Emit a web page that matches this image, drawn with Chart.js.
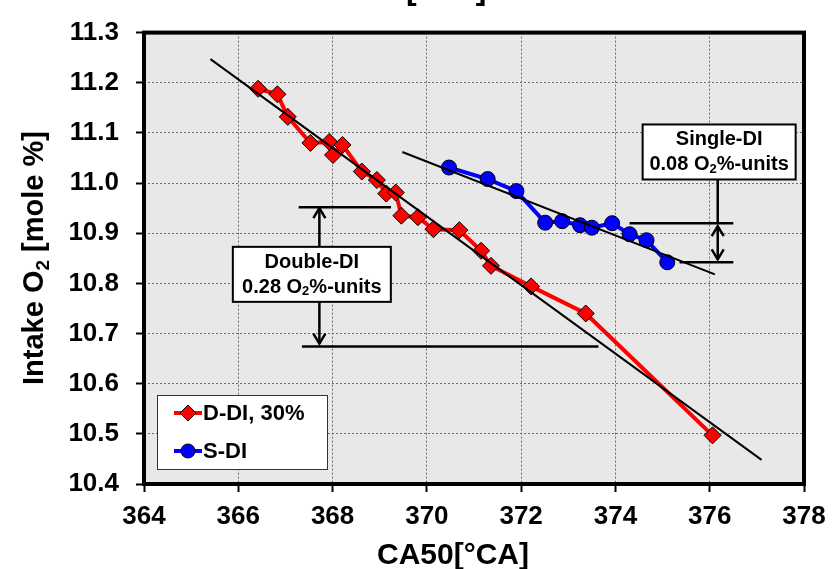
<!DOCTYPE html>
<html>
<head>
<meta charset="utf-8">
<script src="https://cdn.jsdelivr.net/npm/chart.js@4.4.1/dist/chart.umd.min.js"></script>
<style>
  html, body { margin: 0; padding: 0; background: #fff; }
  #o2Chart { display: block; }
</style>
</head>
<body>
<canvas id="o2Chart" width="837" height="569"></canvas>
<script>
// Intake O2 vs CA50 — double vs single direct injection sweep

const xTicks = [364, 366, 368, 370, 372, 374, 376, 378];
const yTicks = [10.4, 10.5, 10.6, 10.7, 10.8, 10.9, 11.0, 11.1, 11.2, 11.3];

const ddiCA50 = [366.42, 366.83, 367.05, 367.53, 367.93, 368.01, 368.21, 368.62, 368.94, 369.14,
                 369.34, 369.46, 369.81, 370.14, 370.69, 371.15, 371.36, 372.21, 373.37, 376.06];
const ddiO2   = [11.188, 11.177, 11.132, 11.080, 11.082, 11.056, 11.076, 11.023, 11.006, 10.979,
                 10.981, 10.935, 10.932, 10.908, 10.906, 10.865, 10.835, 10.794, 10.740, 10.497];

const sdiCA50 = [370.47, 371.29, 371.90, 372.51, 372.87, 373.25, 373.50, 373.93, 374.30, 374.66, 375.10];
const sdiO2   = [11.031, 11.008, 10.984, 10.921, 10.924, 10.916, 10.911, 10.920, 10.898, 10.886, 10.842];

// linear trend lines (end points)
const ddiFitCA50 = [365.41, 377.10];
const ddiFitO2   = [11.247, 10.448];
const sdiFitCA50 = [369.48, 376.11];
const sdiFitO2   = [11.062, 10.818];

// spread brackets: O2 levels, start / end CA50 of each level, arrow CA50, note anchor
const ddiBand     = [10.952, 10.674];
const ddiBandFrom = [367.28, 367.35];
const ddiBandTo   = [369.24, 373.64];
const ddiArrowAt  = 367.72;
const ddiNoteAt   = [367.56, 10.818];

const sdiBand     = [10.920, 10.842];
const sdiBandFrom = [374.30, 375.36];
const sdiBandTo   = [376.50, 376.50];
const sdiArrowAt  = 376.17;
const sdiNoteAt   = [376.20, 11.062];

const FONT = '"Liberation Sans", Arial, Helvetica, sans-serif';
const bold = size => `bold ${size}px ${FONT}`;

const toPoints = (xs, ys) => xs.map((x, i) => ({ x, y: ys[i] }));

// draw a line of text with optional subscript runs
function richText(ctx, parts, x, y, size, align) {
  const subSize = Math.round(size * 0.65);
  const widths = parts.map(p => {
    ctx.font = bold(p.sub ? subSize : size);
    return ctx.measureText(p.t).width;
  });
  const total = widths.reduce((a, b) => a + b, 0);
  let cx = align === "center" ? x - total / 2 : x;
  ctx.textAlign = "left";
  parts.forEach((p, i) => {
    ctx.font = bold(p.sub ? subSize : size);
    ctx.fillText(p.t, cx, p.sub ? y + size * 0.22 : y);
    cx += widths[i];
  });
}

function arrowHead(ctx, x, y, dir) {
  // open chevron, dir = -1 points up, +1 points down
  ctx.beginPath();
  ctx.moveTo(x - 6, y - dir * 10);
  ctx.lineTo(x, y);
  ctx.lineTo(x + 6, y - dir * 10);
  ctx.stroke();
}

function hLine(ctx, x0, x1, y) {
  ctx.beginPath();
  ctx.moveTo(x0, y);
  ctx.lineTo(x1, y);
  ctx.stroke();
}

function vLine(ctx, x, y0, y1) {
  ctx.beginPath();
  ctx.moveTo(x, y0);
  ctx.lineTo(x, y1);
  ctx.stroke();
}

function noteBox(ctx, cx, cy, w, h, title, amount) {
  ctx.fillStyle = "#fff";
  ctx.fillRect(cx - w / 2, cy - h / 2, w, h);
  ctx.strokeStyle = "#000";
  ctx.lineWidth = 2;
  ctx.strokeRect(cx - w / 2, cy - h / 2, w, h);
  ctx.fillStyle = "#000";
  ctx.textBaseline = "middle";
  richText(ctx, [{ t: title }], cx, cy - 12, 20, "center");
  richText(ctx, [{ t: amount + " O" }, { t: "2", sub: true }, { t: "%-units" }], cx, cy + 13, 20, "center");
}

const plotBackground = {
  id: "plotBackground",
  beforeDraw(chart) {
    const { ctx, chartArea: { left, top, right, bottom } } = chart;
    ctx.save();
    ctx.fillStyle = "#e8e8e8";
    ctx.fillRect(left, top, right - left, bottom - top);
    ctx.restore();
  }
};

const spreadNotes = {
  id: "spreadNotes",
  afterDatasetsDraw(chart) {
    const { ctx, scales: { x, y } } = chart;
    ctx.save();
    ctx.strokeStyle = "#000";
    ctx.lineWidth = 2.5;

    // Double-DI spread
    const dTop = y.getPixelForValue(ddiBand[0]);
    const dBot = y.getPixelForValue(ddiBand[1]);
    hLine(ctx, x.getPixelForValue(ddiBandFrom[0]), x.getPixelForValue(ddiBandTo[0]), dTop);
    hLine(ctx, x.getPixelForValue(ddiBandFrom[1]), x.getPixelForValue(ddiBandTo[1]), dBot);
    const dax = x.getPixelForValue(ddiArrowAt);
    const dnx = x.getPixelForValue(ddiNoteAt[0]);
    const dny = y.getPixelForValue(ddiNoteAt[1]);
    vLine(ctx, dax, dny - 27, dTop + 1);
    arrowHead(ctx, dax, dTop + 1, -1);
    vLine(ctx, dax, dny + 27, dBot - 3);
    arrowHead(ctx, dax, dBot - 3, 1);
    const dAmt = (ddiBand[0] - ddiBand[1]).toFixed(2);
    noteBox(ctx, dnx, dny, 158, 55, "Double-DI", dAmt);

    // Single-DI spread
    ctx.strokeStyle = "#000";
    ctx.lineWidth = 2.5;
    const sTop = y.getPixelForValue(sdiBand[0]);
    const sBot = y.getPixelForValue(sdiBand[1]);
    hLine(ctx, x.getPixelForValue(sdiBandFrom[0]), x.getPixelForValue(sdiBandTo[0]), sTop);
    hLine(ctx, x.getPixelForValue(sdiBandFrom[1]), x.getPixelForValue(sdiBandTo[1]), sBot);
    const sax = x.getPixelForValue(sdiArrowAt);
    const snx = x.getPixelForValue(sdiNoteAt[0]);
    const sny = y.getPixelForValue(sdiNoteAt[1]);
    vLine(ctx, sax, sny + 27, sTop);
    vLine(ctx, sax, sTop + 3, sBot - 3);
    arrowHead(ctx, sax, sTop + 3, -1);
    arrowHead(ctx, sax, sBot - 3, 1);
    const sAmt = (sdiBand[0] - sdiBand[1]).toFixed(2);
    noteBox(ctx, snx, sny, 153, 55, "Single-DI", sAmt);

    ctx.restore();
  }
};

const frameAndLabels = {
  id: "frameAndLabels",
  afterDraw(chart) {
    const { ctx, chartArea: { left, top, right, bottom } } = chart;
    ctx.save();

    // legend box, lower left
    const lx = left + 13, ly = bottom - 89;
    ctx.fillStyle = "#fff";
    ctx.fillRect(lx, ly, 170, 74);
    ctx.strokeStyle = "#333";
    ctx.lineWidth = 1;
    ctx.strokeRect(lx + 0.5, ly + 0.5, 170, 74);
    const series = chart.data.datasets.slice(0, 2);
    series.forEach((ds, i) => {
      const yy = ly + 18 + i * 38;
      ctx.strokeStyle = ds.borderColor;
      ctx.lineWidth = 4;
      hLine(ctx, lx + 17, lx + 45, yy);
      ctx.fillStyle = ds.pointBackgroundColor;
      ctx.strokeStyle = "#000";
      ctx.lineWidth = 1;
      ctx.beginPath();
      if (ds.pointStyle === "rectRot") {
        ctx.moveTo(lx + 31, yy - 8);
        ctx.lineTo(lx + 39, yy);
        ctx.lineTo(lx + 31, yy + 8);
        ctx.lineTo(lx + 23, yy);
        ctx.closePath();
      } else {
        ctx.arc(lx + 31, yy, 7, 0, Math.PI * 2);
      }
      ctx.fill();
      ctx.stroke();
      ctx.fillStyle = "#000";
      ctx.font = bold(22);
      ctx.textAlign = "left";
      ctx.textBaseline = "middle";
      ctx.fillText(ds.label, lx + 46, yy + 1);
    });

    // heavy plot frame
    ctx.strokeStyle = "#000";
    ctx.lineWidth = 4;
    ctx.strokeRect(left, top, right - left, bottom - top);

    // axis titles
    ctx.fillStyle = "#000";
    ctx.textBaseline = "alphabetic";
    ctx.font = bold(30);
    ctx.textAlign = "center";
    ctx.fillText("CA50[°CA]", 453, 564);

    // unit tag of the heading, sitting mostly above the canvas edge
    ctx.font = bold(32);
    ctx.textAlign = "left";
    ctx.fillText("[°CA]", 406, -1);

    ctx.translate(43, 258);
    ctx.rotate(-Math.PI / 2);
    richText(ctx, [{ t: "Intake O" }, { t: "2", sub: true }, { t: " [mole %]" }], 0, 0, 29, "center");

    ctx.restore();
  }
};

const tickFont = { family: FONT, size: 26, weight: "bold" };

new Chart(document.getElementById("o2Chart"), {
  type: "scatter",
  plugins: [plotBackground, spreadNotes, frameAndLabels],
  data: {
    datasets: [
      {
        label: "D-DI, 30%",
        data: toPoints(ddiCA50, ddiO2),
        showLine: true,
        borderColor: "#ff0000",
        borderWidth: 4,
        pointStyle: "rectRot",
        pointRadius: 8.5,
        pointBackgroundColor: "#ff0000",
        pointBorderColor: "#000",
        pointBorderWidth: 1,
        order: 2
      },
      {
        label: "S-DI",
        data: toPoints(sdiCA50, sdiO2),
        showLine: true,
        borderColor: "#0000ff",
        borderWidth: 4,
        pointStyle: "circle",
        pointRadius: 7.5,
        pointBackgroundColor: "#0000ff",
        pointBorderColor: "#000",
        pointBorderWidth: 1,
        order: 1
      },
      {
        label: "D-DI trend",
        data: toPoints(ddiFitCA50, ddiFitO2),
        showLine: true,
        borderColor: "#000",
        borderWidth: 2,
        pointRadius: 0,
        order: 0
      },
      {
        label: "S-DI trend",
        data: toPoints(sdiFitCA50, sdiFitO2),
        showLine: true,
        borderColor: "#000",
        borderWidth: 2,
        pointRadius: 0,
        order: 0
      }
    ]
  },
  options: {
    responsive: false,
    animation: false,
    layout: { padding: { top: 22, right: 33, left: 0, bottom: 0 } },
    plugins: {
      legend: { display: false },
      tooltip: { enabled: false }
    },
    scales: {
      x: {
        type: "linear",
        min: xTicks[0],
        max: xTicks[xTicks.length - 1],
        afterBuildTicks: s => { s.ticks = xTicks.map(v => ({ value: v })); },
        afterFit: s => { s.height = 85; },
        ticks: { color: "#000", font: tickFont, padding: 9, maxRotation: 0, callback: v => String(v) },
        grid: { color: "#6e6e6e", lineWidth: 1, tickColor: "#000", tickWidth: 2, tickLength: 8 },
        border: { display: false, dash: [2, 2] }
      },
      y: {
        min: yTicks[0],
        max: yTicks[yTicks.length - 1],
        afterBuildTicks: s => { s.ticks = yTicks.map(v => ({ value: v })); },
        afterFit: s => { s.width = 144; },
        ticks: { color: "#000", font: tickFont, padding: 17, callback: v => v.toFixed(1) },
        grid: { color: "#6e6e6e", lineWidth: 1, tickColor: "#000", tickWidth: 2, tickLength: 8 },
        border: { display: false, dash: [2, 2] }
      }
    }
  }
});
</script>
</body>
</html>
